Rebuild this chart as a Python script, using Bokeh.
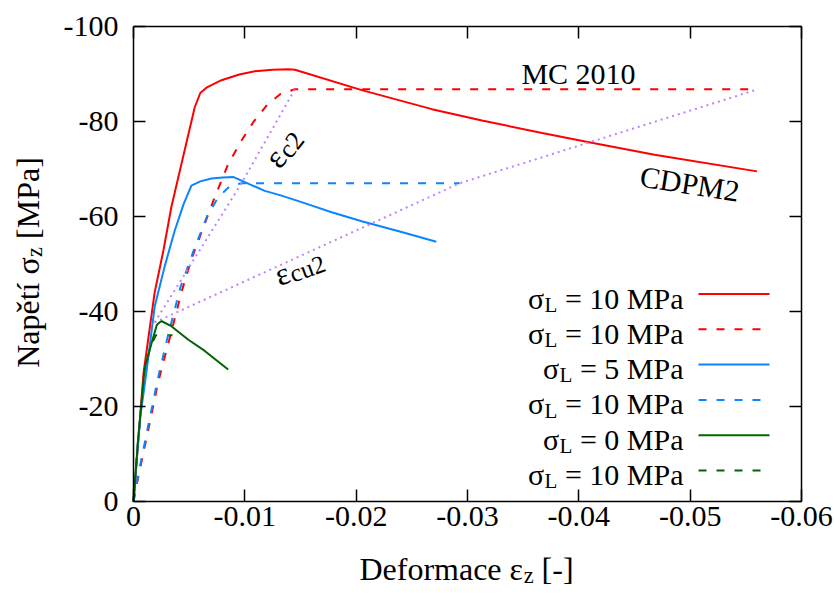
import math
from bokeh.plotting import figure
from bokeh.models import Range1d, LinearAxis, FixedTicker, Label
from bokeh.embed import file_html
from bokeh.resources import INLINE

# ---------------- data ----------------
x_ticks = [0, -0.01, -0.02, -0.03, -0.04, -0.05, -0.06]
x_tick_labels = ["0", "-0.01", "-0.02", "-0.03", "-0.04", "-0.05", "-0.06"]
y_ticks = [0, -20, -40, -60, -80, -100]
y_tick_labels = ["0", "-20", "-40", "-60", "-80", "-100"]

# CDPM2, sigma_L = 10 MPa (red solid)
cdpm10_x = [0, -0.0004, -0.0009, -0.0019, -0.0027, -0.0034, -0.0045, -0.0055, -0.0060, -0.0066,
            -0.0079, -0.0095, -0.0109, -0.0125, -0.0139, -0.0145, -0.0205, -0.0268, -0.0313,
            -0.0367, -0.0408, -0.0468, -0.0560]
cdpm10_y = [0, -12, -27, -44, -53, -62, -73, -83, -86, -87.2,
            -88.7, -89.9, -90.6, -90.9, -91.0, -90.9, -86.6, -82.6, -80.2,
            -77.6, -75.7, -73.0, -69.5]
# MC 2010, sigma_L = 10 MPa (red dashed)
mc10_x = [0, -0.0005, -0.0015, -0.0022, -0.0031, -0.0043, -0.0052, -0.0060, -0.0072, -0.0085,
          -0.0097, -0.0108, -0.0120, -0.0132, -0.0145, -0.0561]
mc10_y = [0, -6, -17, -25, -33, -44, -51, -56, -63.5, -71,
          -76, -80, -83.5, -85.8, -86.8, -86.8]
# CDPM2, sigma_L = 5 MPa (blue solid)
cdpm5_x = [0, -0.0003, -0.0006, -0.0012, -0.0019, -0.0028, -0.0037, -0.0045, -0.0052, -0.0060,
           -0.0070, -0.0080, -0.0090, -0.0105, -0.0118, -0.0133, -0.0155, -0.0178, -0.0205,
           -0.0240, -0.0272]
cdpm5_y = [0, -9, -17.6, -28, -41, -49.5, -57, -62.6, -66.5, -67.4,
           -68.0, -68.2, -68.3, -66.7, -65.4, -64.4, -62.7, -60.9, -59.0,
           -56.8, -54.7]
# MC 2010, sigma_L = 5 MPa (blue dashed)
mc5_x = [0, -0.0005, -0.0015, -0.0022, -0.0030, -0.0042, -0.0054, -0.0066, -0.0076, -0.0087,
         -0.0097, -0.0293]
mc5_y = [0, -6.5, -18, -26, -34, -45, -52.8, -60, -64, -66.5,
         -67.0, -67.0]
# CDPM2, sigma_L = 0 MPa (green solid)
cdpm0_x = [0, -0.0004, -0.0010, -0.0018, -0.0021, -0.0025, -0.0034, -0.0049, -0.0064, -0.0085]
cdpm0_y = [0, -12.7, -28.1, -34.8, -37.2, -38.0, -36.9, -34.1, -31.7, -27.8]
# MC 2010, sigma_L = 0 MPa (green dashed)
mc0_x = [0, -0.0004, -0.0010, -0.0015, -0.0020, -0.0035]
mc0_y = [0, -12.5, -27.5, -32.5, -35.0, -35.0]
# eps_c2 and eps_cu2 guide lines (purple dotted)
ec2_x = [-0.0019, -0.0097, -0.0145]
ec2_y = [-37.7, -67.0, -86.8]
ecu2_x = [-0.0019, -0.0293, -0.0561]
ecu2_y = [-37.7, -67.0, -86.8]

legend_labels = [("L", " = 10 MPa"), ("L", " = 10 MPa"), ("L", " = 5 MPa"),
                 ("L", " = 10 MPa"), ("L", " = 0 MPa"), ("L", " = 10 MPa")]

# ---------------- layout ----------------
W, H = 834, 596
FL, FT, FR, FB = 133, 26, 801, 501          # plot box edges in screen px
X0, X1 = 0.0, -0.06
Y0, Y1 = 0.0, -100.0
FONT = "Liberation Serif"
RED, BLUE, GREEN, PURPLE = "#ff0000", "#0a84ff", "#006400", "#c080ff"
DASH = "8 10"
BASE_FIX = 8.0   # label baseline correction (px, toward the text's top)


def xd(sx):
    return X0 + (sx - FL) / (FR - FL) * (X1 - X0)


def yd(sy):
    return Y0 + (FB - sy) / (FB - FT) * (Y1 - Y0)


ADV = {' ': 250, '[': 333, ']': 333, '-': 333, '=': 564, '.': 250, 'M': 889, 'P': 556,
       'a': 444, 'N': 722, 'p': 500, 'ě': 444, 't': 278, 'í': 278, 'D': 722, 'e': 444,
       'f': 333, 'o': 500, 'r': 333, 'm': 778, 'c': 444, 'z': 444, 'L': 611, 'u': 500,
       'C': 667, 'σ': 550, 'ε': 440}


def tw(s, size):
    return sum(ADV.get(ch, 500) for ch in s) * size / 1000.0


# the frame covers the whole canvas; the plot box is drawn by fixed-location axes
p = figure(width=W, height=H, x_range=Range1d(xd(0), xd(W)), y_range=Range1d(yd(H), yd(0)),
           output_backend="svg", toolbar_location=None, x_axis_type=None, y_axis_type=None,
           min_border=0)
p.min_border_left = p.min_border_right = p.min_border_top = p.min_border_bottom = 0
p.grid.visible = False
p.outline_line_color = None
p.background_fill_color = "white"
p.border_fill_color = "white"

xb = (min(X0, X1), max(X0, X1))
yb = (min(Y0, Y1), max(Y0, Y1))
bottom_ax = LinearAxis(fixed_location=Y0, bounds=xb)
top_ax = LinearAxis(fixed_location=Y1, bounds=xb)
left_ax = LinearAxis(fixed_location=X0, bounds=yb)
right_ax = LinearAxis(fixed_location=X1, bounds=yb)
p.add_layout(bottom_ax, "below")
p.add_layout(top_ax, "above")
p.add_layout(left_ax, "left")
p.add_layout(right_ax, "right")

for ax, ticks, labels in [(bottom_ax, x_ticks, x_tick_labels), (top_ax, x_ticks, x_tick_labels),
                          (left_ax, y_ticks, y_tick_labels), (right_ax, y_ticks, y_tick_labels)]:
    ax.ticker = FixedTicker(ticks=ticks)
    ax.major_label_overrides = {t: l for t, l in zip(ticks, labels)}
    ax.major_tick_in = 12
    ax.major_tick_out = 0
    ax.minor_tick_line_color = None
    ax.major_tick_line_color = "black"
    ax.major_tick_line_width = 1.5
    ax.axis_line_color = "black"
    ax.axis_line_width = 1.5
    ax.major_label_text_font = FONT
    ax.major_label_text_font_size = "30px"
    ax.major_label_text_color = "black"

top_ax.major_label_text_color = None
right_ax.major_label_text_color = None
bottom_ax.major_label_standoff = 5
left_ax.major_label_standoff = 15

# curves
p.line(mc0_x, mc0_y, line_color=GREEN, line_width=2, line_dash=DASH)
p.line(cdpm10_x, cdpm10_y, line_color=RED, line_width=2)
p.line(mc10_x, mc10_y, line_color=RED, line_width=2, line_dash=DASH)
p.line(cdpm5_x, cdpm5_y, line_color=BLUE, line_width=2)
p.line(mc5_x, mc5_y, line_color=BLUE, line_width=2, line_dash=DASH)
p.line(cdpm0_x, cdpm0_y, line_color=GREEN, line_width=2)
p.line(ec2_x, ec2_y, line_color=PURPLE, line_width=2, line_dash="2 4")
p.line(ecu2_x, ecu2_y, line_color=PURPLE, line_width=2, line_dash="2 4")


def rich(parts, sx, sy, size, angle_deg=0.0, align="left", sub_scale=0.7, sub_shift=0.22):
    th = math.radians(angle_deg)
    ux, uy = math.cos(th), -math.sin(th)
    dx, dy = math.sin(th), math.cos(th)
    sx -= BASE_FIX * dx
    sy -= BASE_FIX * dy
    widths = [tw(t, size * sub_scale if sub else size) for t, sub in parts]
    total = sum(widths)
    pos = {"left": 0.0, "center": -total / 2.0, "right": -total}[align]
    for (t, sub), w in zip(parts, widths):
        fs = size * sub_scale if sub else size
        sh = size * sub_shift if sub else 0.0
        lead = len(t) - len(t.lstrip(" "))
        tt = t.lstrip(" ")
        start = pos + tw(" " * lead, fs)
        px = sx + start * ux + sh * dx
        py = sy + start * uy + sh * dy
        p.add_layout(Label(x=xd(px), y=yd(py), text=tt, angle=th, text_font=FONT,
                           text_font_size=f"{fs:.1f}px", text_align="left",
                           text_baseline="alphabetic", text_color="black"))
        pos += w


# axis titles
rich([("Deformace ε", False), ("z", True), (" [-]", False)], 466, 576, 32, align="center")
rich([("Napětí σ", False), ("z", True), (" [MPa]", False)], 35, 262, 32, angle_deg=90,
     align="center")

# annotations
rich([("MC 2010", False)], 578, 81, 30, align="center")
rich([("CDPM2", False)], 688, 191, 30, angle_deg=-9, align="center")
rich([("ε", False), ("c2", True)], 277, 168, 33, angle_deg=52, sub_scale=0.8, sub_shift=0.12)
rich([("ε", False), ("cu2", True)], 278, 283, 32, angle_deg=20, sub_scale=0.78, sub_shift=0.12)

# legend
leg_styles = [(RED, None), (RED, DASH), (BLUE, None), (BLUE, DASH), (GREEN, None), (GREEN, DASH)]
row_y0, row_dy = 293.5, 35.3
for i, ((sub, rest), (col, dash)) in enumerate(zip(legend_labels, leg_styles)):
    ry = row_y0 + i * row_dy
    rich([("σ", False), (sub, True), (rest, False)], 683, ry + 12, 30, align="right")
    kw = dict(line_color=col, line_width=2)
    if dash:
        kw["line_dash"] = dash
    p.line([xd(698), xd(769)], [yd(ry), yd(ry)], **kw)

open("out.html", "w").write(file_html(p, INLINE))
